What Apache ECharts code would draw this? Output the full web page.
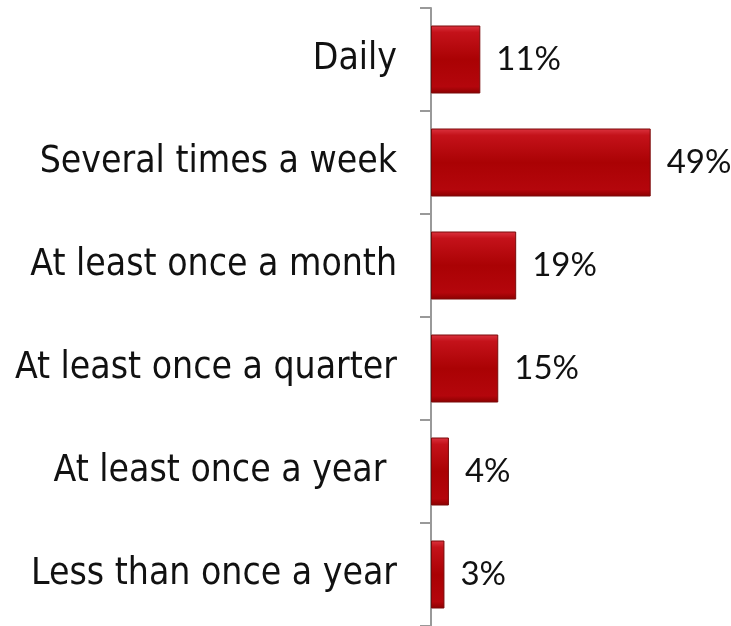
<!DOCTYPE html>
<html>
<head>
<meta charset="utf-8">
<script src="https://cdn.jsdelivr.net/npm/echarts@6/dist/echarts.min.js"></script>
<style>
  html, body { margin: 0; padding: 0; background: #ffffff; }
  #chart { width: 731px; height: 626px; }
</style>
</head>
<body>
<div id="chart"></div>
<script>
// Survey frequency categories, top to bottom
const categories = [
  'Daily',
  'Several times a week',
  'At least once a month',
  'At least once a quarter',
  'At least once a year ',
  'Less than once a year'
];
// Share of respondents, in percent
const shares = [11, 49, 19, 15, 4, 3];

const barFill = new echarts.graphic.LinearGradient(0, 0, 0, 1, [
  { offset: 0, color: '#dc3440' },
  { offset: 0.1, color: '#c4121a' },
  { offset: 0.5, color: '#aa0204' },
  { offset: 0.9, color: '#b4060c' },
  { offset: 1, color: '#8a0000' }
]);

const chart = echarts.init(document.getElementById('chart'));
chart.setOption({
  animation: false,
  backgroundColor: '#ffffff',
  grid: { left: 431, top: 8, width: 269, height: 620, containLabel: false },
  xAxis: {
    type: 'value',
    min: 0,
    max: 60,
    show: false,
    splitLine: { show: false }
  },
  yAxis: {
    type: 'category',
    data: categories,
    inverse: true,
    axisLine: { show: true, lineStyle: { color: '#999999', width: 2 } },
    axisTick: { show: true, length: 11, lineStyle: { color: '#999999', width: 2 } },
    axisLabel: {
      margin: 34,
      color: '#111111',
      fontFamily: '"DejaVu Sans Condensed", "DejaVu Sans", sans-serif',
      fontSize: 37
    }
  },
  series: [{
    type: 'bar',
    data: shares,
    barWidth: 68,
    itemStyle: {
      color: barFill,
      borderColor: '#7a0a0a',
      borderWidth: 1
    },
    label: {
      show: true,
      position: 'right',
      distance: 16,
      formatter: '{c}%',
      color: '#111111',
      fontFamily: 'Lato, "Open Sans", sans-serif',
      fontSize: 33
    }
  }]
});
</script>
</body>
</html>
